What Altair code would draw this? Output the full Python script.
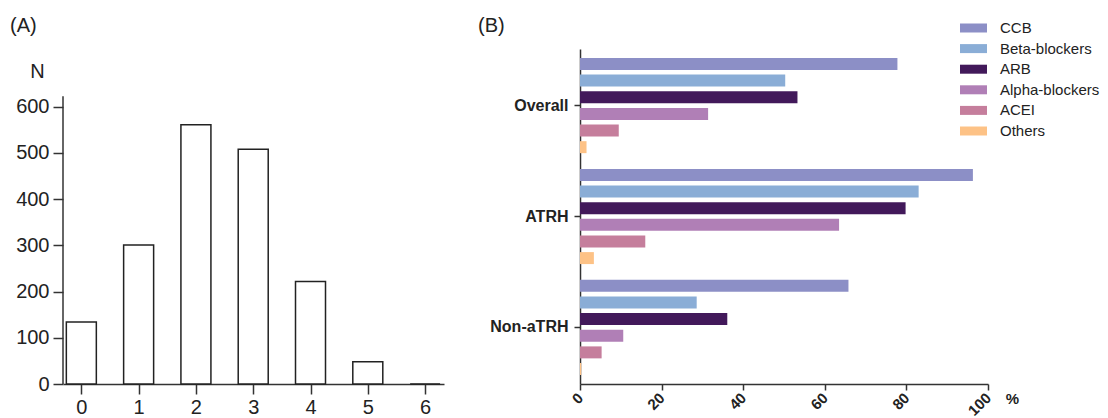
import altair as alt
import pandas as pd

FONT = "Liberation Sans"

# Panel A: number of antihypertensive drug classes
a_x = [0, 1, 2, 3, 4, 5, 6]
a_n = [134, 301, 561, 508, 222, 48, 0]
a_ticks = [0, 100, 200, 300, 400, 500, 600]

# Panel B: drug class use (%) by group
groups = ["Overall", "ATRH", "Non-aTRH"]
drugs = ["CCB", "Beta-blockers", "ARB", "Alpha-blockers", "ACEI", "Others"]
ccb = [77.8, 96.3, 65.8]
beta = [50.3, 83.0, 28.6]
arb = [53.3, 79.8, 36.1]
alpha = [31.4, 63.5, 10.6]
acei = [9.5, 16.0, 5.3]
others = [1.6, 3.4, 0.3]
colors = ["#8c8fc6", "#8aadd6", "#42195a", "#b07fb6", "#c57e9c", "#fdc286"]
b_ticks = [0, 20, 40, 60, 80, 100]

# ---------- Panel A ----------
dfa = pd.DataFrame({"k": a_x, "n": a_n})
xa = alt.X("k:Q",
           scale=alt.Scale(domain=[-0.32, 6.33], nice=False, zero=False, padding=0),
           axis=alt.Axis(values=a_x, title=None, grid=False, labelFontSize=20,
                         labelFont=FONT, labelColor="#222", tickSize=10,
                         labelPadding=3, domainColor="#333", tickColor="#333",
                         domainWidth=1.5, tickWidth=1.5, format="d"))
ya = alt.Y("n:Q",
           scale=alt.Scale(domain=[0, 725], nice=False, padding=0),
           axis=alt.Axis(values=a_ticks, domain=False, grid=False, title="N",
                         titleAngle=0, titleX=-26, titleY=22, titleAlign="center",
                         titleBaseline="middle", titleFontSize=20,
                         titleFontWeight="normal", titleFont=FONT, titleColor="#222",
                         labelFontSize=20, labelFont=FONT, labelColor="#222",
                         tickSize=10, labelPadding=4, tickColor="#333", tickWidth=1.5))
bars_a = alt.Chart(dfa).mark_bar(fill="white", stroke="#222", strokeWidth=1.5,
                                 size=30).encode(x=xa, y=ya)
yline = alt.Chart(pd.DataFrame({"a": [0]})).mark_rule(
    color="#333", strokeWidth=1.5).encode(
    x=alt.value(0), y=alt.datum(0), y2=alt.datum(623))
lab_a = alt.Chart(pd.DataFrame({"t": ["(A)"]})).mark_text(
    align="left", baseline="middle", fontSize=20, font=FONT, color="#222").encode(
    text="t:N", x=alt.value(-53), y=alt.value(-23))
panel_a = alt.layer(bars_a, yline, lab_a).properties(width=381, height=335)

# ---------- Panel B ----------
rows = []
for d, vals in zip(drugs, [ccb, beta, arb, alpha, acei, others]):
    for g, v in zip(groups, vals):
        rows.append({"group": g, "drug": d, "value": v})
dfb = pd.DataFrame(rows)

bars_b = alt.Chart(dfb).mark_bar().encode(
    x=alt.X("value:Q", scale=alt.Scale(domain=[0, 100], nice=False, padding=0),
            axis=alt.Axis(values=b_ticks, grid=False, title="%", titleAngle=0,
                          titleX=432, titleY=14, titleAlign="center",
                          titleBaseline="middle", titleFontSize=15,
                          titleFontWeight="bold", titleFont=FONT, titleColor="#222",
                          labelAngle=315, labelAlign="right", labelBaseline="middle",
                          labelFontSize=15, labelFontWeight="bold", labelFont=FONT,
                          labelColor="#222", labelPadding=5, tickSize=6,
                          domainColor="#333", tickColor="#333", domainWidth=1.5,
                          tickWidth=1.5)),
    y=alt.Y("group:N", sort=groups, title=None,
            scale=alt.Scale(paddingInner=0.1, paddingOuter=0.06),
            axis=alt.Axis(labelFontSize=16, labelFontWeight="bold", labelFont=FONT,
                          labelColor="#222", tickSize=6, labelPadding=6,
                          domainColor="#333", tickColor="#333", domainWidth=1.5,
                          tickWidth=1.5)),
    yOffset=alt.YOffset("drug:N", sort=drugs,
                        scale=alt.Scale(paddingInner=0.28, paddingOuter=0.14)),
    color=alt.Color("drug:N", sort=drugs,
                    scale=alt.Scale(domain=drugs, range=colors),
                    legend=alt.Legend(title=None, orient="none", legendX=901.5,
                                      legendY=-30,
                                      symbolType="M-1.5,-0.5H1.5V0.5H-1.5Z",
                                      symbolSize=324, symbolStrokeWidth=0,
                                      labelFontSize=15, labelFont=FONT,
                                      labelColor="#222", labelOffset=17.5,
                                      rowPadding=3.6)),
)
lab_b = alt.Chart(pd.DataFrame({"t": ["(B)"]})).mark_text(
    align="left", baseline="middle", fontSize=20, font=FONT, color="#222").encode(
    text="t:N", x=alt.value(-102), y=alt.value(-23))
panel_b = alt.layer(bars_b, lab_b).properties(width=408, height=335)

chart = alt.hconcat(panel_a, panel_b, spacing=34).properties(
    padding={"left": 2, "top": 8, "right": 0, "bottom": 0}
).configure_view(stroke=None)

chart.save("out.html", embed_options={"renderer": "svg", "actions": False})
